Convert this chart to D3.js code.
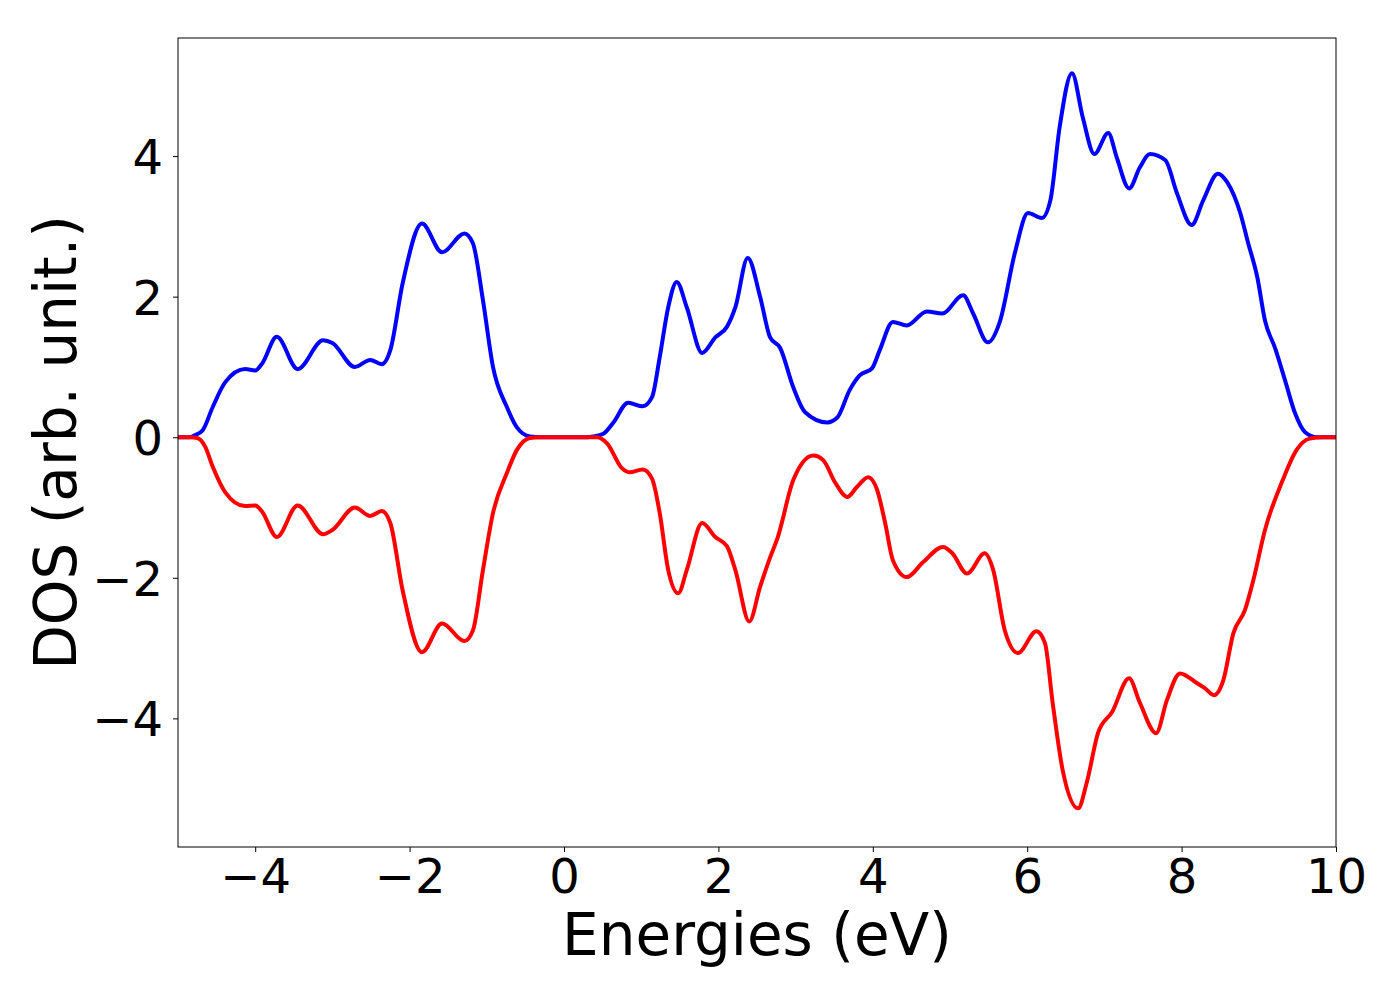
<!DOCTYPE html>
<html><head><meta charset="utf-8">
<script src="https://cdn.jsdelivr.net/npm/d3@7"></script>
<style>body{margin:0;background:#fff;} text{font-family:"DejaVu Sans",sans-serif;}</style>
</head><body>
<svg id="chart" width="1400" height="1000"></svg>
<script>
const energyUp = [-5,-4.85,-4.78,-4.68,-4.55,-4.39,-4.13,-4.0,-3.91,-3.72,-3.45,-3.12,-3.0,-2.71,-2.51,-2.36,-2.25,-2.09,-1.84,-1.58,-1.29,-1.18,-1.05,-0.92,-0.74,-0.61,-0.44,-0.3,0,0.3,0.38,0.51,0.64,0.83,1.02,1.14,1.24,1.35,1.46,1.59,1.79,1.96,2.11,2.22,2.38,2.54,2.67,2.80,2.97,3.12,3.41,3.54,3.70,3.83,3.99,4.09,4.26,4.44,4.70,4.90,5.17,5.30,5.49,5.65,5.84,6.01,6.19,6.30,6.42,6.58,6.72,6.87,7.05,7.16,7.32,7.46,7.59,7.79,7.94,8.13,8.28,8.47,8.59,8.76,8.86,8.98,9.08,9.21,9.34,9.47,9.60,9.75,10];
const dosUp =    [0,0,0.03,0.1,0.43,0.78,0.97,0.95,1.05,1.43,0.97,1.38,1.34,1.0,1.1,1.04,1.24,2.19,3.04,2.63,2.9,2.76,1.95,1.0,0.43,0.14,0.01,0,0,0,0.01,0.05,0.21,0.49,0.44,0.57,1.14,1.85,2.21,1.85,1.2,1.42,1.57,1.85,2.55,2.0,1.42,1.27,0.71,0.36,0.21,0.28,0.67,0.88,0.98,1.24,1.64,1.59,1.79,1.76,2.02,1.76,1.35,1.66,2.62,3.19,3.12,3.37,4.41,5.18,4.55,4.03,4.33,3.98,3.54,3.84,4.03,3.94,3.47,3.02,3.37,3.75,3.63,3.19,2.77,2.28,1.66,1.27,0.81,0.34,0.07,0,0];

const energyDown = [-5,-4.85,-4.75,-4.65,-4.55,-4.39,-4.13,-4.0,-3.91,-3.72,-3.45,-3.12,-3.0,-2.71,-2.51,-2.36,-2.25,-2.09,-1.84,-1.58,-1.29,-1.18,-1.05,-0.92,-0.74,-0.61,-0.44,-0.3,0,0.3,0.43,0.56,0.75,0.85,1.02,1.14,1.24,1.35,1.48,1.59,1.79,1.96,2.11,2.22,2.40,2.54,2.67,2.77,2.97,3.23,3.36,3.51,3.67,3.80,3.94,4.05,4.16,4.26,4.44,4.65,4.91,5.03,5.22,5.45,5.56,5.71,5.88,6.12,6.23,6.33,6.46,6.66,6.77,6.92,7.10,7.32,7.46,7.67,7.81,7.98,8.20,8.30,8.42,8.54,8.67,8.82,8.93,9.08,9.31,9.49,9.66,9.83,10];
const dosDown =    [0,0,-0.01,-0.13,-0.42,-0.78,-0.98,-0.97,-1.06,-1.42,-0.97,-1.38,-1.32,-1.0,-1.12,-1.05,-1.22,-2.18,-3.06,-2.65,-2.9,-2.75,-1.89,-1.08,-0.51,-0.18,-0.01,0,0,0,0,-0.09,-0.44,-0.5,-0.46,-0.59,-1.08,-1.89,-2.22,-1.89,-1.22,-1.42,-1.55,-1.89,-2.62,-2.13,-1.71,-1.42,-0.61,-0.26,-0.33,-0.64,-0.85,-0.7,-0.57,-0.73,-1.22,-1.75,-1.99,-1.78,-1.56,-1.65,-1.94,-1.65,-1.89,-2.75,-3.07,-2.76,-2.93,-3.78,-4.74,-5.28,-4.92,-4.2,-3.91,-3.43,-3.78,-4.21,-3.74,-3.36,-3.5,-3.57,-3.67,-3.46,-2.79,-2.46,-2.03,-1.32,-0.61,-0.18,-0.02,0,0];

const xTicks = [-4,-2,0,2,4,6,8,10];
const yTicks = [-4,-2,0,2,4];
const xLabel = "Energies (eV)";
const yLabel = "DOS (arb. unit.)";

const L = 178, R = 1336, T = 38, B = 847;
const svg = d3.select("#chart");
const x = d3.scaleLinear().domain([-5, 10]).range([L, R]);
const y = d3.scaleLinear().domain([-5.83, 5.68]).range([B, T]);

svg.append("defs").append("clipPath").attr("id","clip")
  .append("rect").attr("x",L).attr("y",T).attr("width",R-L).attr("height",B-T);

const line = d3.line().x(d=>x(d[0])).y(d=>y(d[1])).curve(d3.curveMonotoneX);
const up = energyUp.map((e,i)=>[e,dosUp[i]]);
const down = energyDown.map((e,i)=>[e,dosDown[i]]);

const g = svg.append("g").attr("clip-path","url(#clip)");
g.append("path").datum(up).attr("d",line).attr("fill","none").attr("stroke","#0000ff").attr("stroke-width",4).attr("stroke-linejoin","round");
g.append("path").datum(down).attr("d",line).attr("fill","none").attr("stroke","#ff0000").attr("stroke-width",4).attr("stroke-linejoin","round");

const fmt = d => d < 0 ? "\u2212" + Math.abs(d) : String(d);
const xAxis = svg.append("g").attr("transform",`translate(0,${B})`)
  .call(d3.axisBottom(x).tickValues(xTicks).tickFormat(fmt).tickSize(5).tickPadding(9));
const yAxis = svg.append("g").attr("transform",`translate(${L},0)`)
  .call(d3.axisLeft(y).tickValues(yTicks).tickFormat(fmt).tickSize(5).tickPadding(10));
[xAxis,yAxis].forEach(a=>{
  a.select(".domain").remove();
  a.selectAll("text").attr("font-size",48).attr("fill","#000").attr("font-family","DejaVu Sans");
  a.selectAll("line").attr("stroke","#000").attr("stroke-width",1);
});
yAxis.selectAll("text").attr("dy",null).attr("dominant-baseline",null).attr("y",17.5);
xAxis.selectAll("text").attr("dy",null).attr("y",46);

svg.append("rect").attr("x",L).attr("y",T).attr("width",R-L).attr("height",B-T)
  .attr("fill","none").attr("stroke","#000").attr("stroke-width",1);

svg.append("text").attr("x",(L+R)/2).attr("y",955).attr("text-anchor","middle")
  .attr("font-size",58).attr("fill","#000").text(xLabel);
svg.append("text").attr("transform",`translate(76,${(T+B)/2}) rotate(-90)`).attr("text-anchor","middle")
  .attr("font-size",58).attr("fill","#000").text(yLabel);
</script>
</body></html>
